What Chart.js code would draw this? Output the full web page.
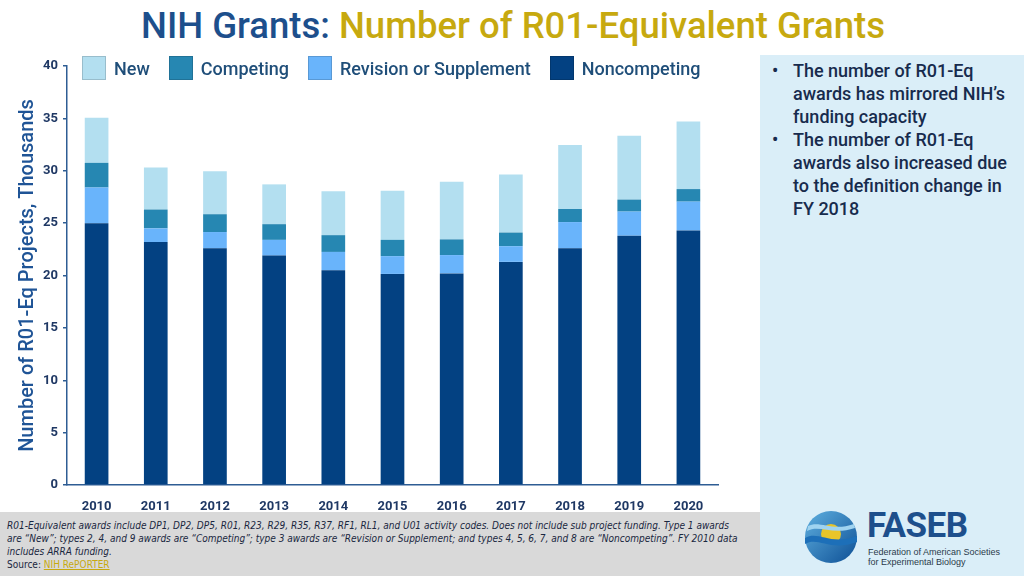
<!DOCTYPE html>
<html>
<head>
<meta charset="utf-8">
<script src="https://cdn.jsdelivr.net/npm/chart.js@4.4.0/dist/chart.umd.min.js"></script>
<style>
  body { margin: 0; width: 1024px; height: 576px; overflow: hidden; background: #fff; position: relative; font-family: Roboto, "Liberation Sans", sans-serif; }
  #title { position: absolute; left: 0; width: 1026px; top: 4px; text-align: center; font-size: 36.5px; font-weight: 500; white-space: nowrap; }
  #title .a { color: #1d4f8c; }
  #title .b { color: #c7a90f; }
  #chartBox { position: absolute; left: 0; top: 0; width: 760px; height: 512px; }
  #legend { position: absolute; left: 82px; top: 56px; display: flex; align-items: center; font-size: 18px; font-weight: 500; color: #1f4e79; }
  #legend .item { display: flex; align-items: center; margin-right: 19px; }
  #legend .box { width: 24px; height: 24px; margin-right: 8px; box-sizing: border-box; }
  #panel { position: absolute; left: 760px; top: 55px; width: 264px; height: 521px; background: #daeef8; }
  #panel ul { margin: 0; padding: 4px 10px 0 33px; list-style: none; color: #172b4d; font-size: 18px; font-weight: 500; line-height: 23px; }
  #panel li { position: relative; }
  #panel li::before { content: "\2022"; position: absolute; left: -21px; }
  #footer { position: absolute; left: 0; top: 512px; width: 760px; height: 64px; background: #d9d9d9; }
  #footer p { margin: 0; white-space: nowrap; padding: 7px 0 0 7px; font-family: "Liberation Sans Narrow", "DejaVu Sans Condensed", sans-serif; font-stretch: condensed; font-style: italic; font-size: 10px; line-height: 13px; color: #1a2740; }
  #footer .src { font-style: normal; }
  #footer .src a { color: #c7a90f; text-decoration: underline; }
  #logo { position: absolute; left: 800px; top: 506px; }
  #faseb { position: absolute; left: 867px; top: 505px; color: #1d4f8c; font-family: Roboto, sans-serif; font-weight: 700; font-size: 35px; letter-spacing: -0.5px; }
  #fasebSub { position: absolute; left: 868px; top: 547px; color: #2a3a4a; font-family: "Liberation Sans", sans-serif; font-size: 9px; line-height: 10px; }
</style>
</head>
<body>
<div id="title"><span class="a">NIH Grants:</span> <span class="b">Number of R01-Equivalent Grants</span></div>
<div id="chartBox"><canvas id="chart"></canvas></div>
<div id="legend"></div>
<div id="panel">
  <ul>
    <li>The number of R01-Eq awards has mirrored NIH’s funding capacity</li>
    <li>The number of R01-Eq awards also increased due to the definition change in FY 2018</li>
  </ul>
</div>
<div id="footer">
  <p>R01-Equivalent awards include DP1, DP2, DP5, R01, R23, R29, R35, R37, RF1, RL1, and U01 activity codes. Does not include sub project funding. Type 1 awards<br>
  are “New”; types 2, 4, and 9 awards are “Competing”; type 3 awards are “Revision or Supplement; and types 4, 5, 6, 7, and 8 are “Noncompeting”. FY 2010 data<br>
  includes ARRA funding.<br>
  <span class="src">Source: <a>NIH RePORTER</a></span></p>
</div>
<svg id="logo" width="62" height="62" viewBox="0 0 62 62">
  <defs>
    <linearGradient id="g1" x1="0" y1="0" x2="1" y2="1">
      <stop offset="0" stop-color="#5fb0e0"/><stop offset="1" stop-color="#0d4f95"/>
    </linearGradient>
  </defs>
  <circle cx="31" cy="31" r="26" fill="url(#g1)"/>
  <circle cx="31" cy="28" r="10" fill="#e8c52a"/>
  <path d="M5 32 C18 24 30 40 57 30 L57 36 C30 46 18 30 5 38 Z" fill="#1d6fb8"/>
  <path d="M8 20 C20 14 32 26 54 18 L55 22 C32 30 20 18 7 25 Z" fill="#9fd3f0"/>
</svg>
<div id="faseb">FASEB</div>
<div id="fasebSub">Federation of American Societies<br>for Experimental Biology</div>
<script>
// Fiscal years
const years = ['2010', '2011', '2012', '2013', '2014', '2015', '2016', '2017', '2018', '2019', '2020'];

// R01-equivalent projects, thousands
const noncompeting = [25.0, 23.2, 22.6, 21.9, 20.5, 20.15, 20.2, 21.3, 22.6, 23.8, 24.3];
const revision = [3.4, 1.3, 1.55, 1.5, 1.75, 1.7, 1.75, 1.5, 2.5, 2.3, 2.75];
const competing = [2.35, 1.8, 1.7, 1.5, 1.6, 1.55, 1.5, 1.3, 1.25, 1.15, 1.2];
const newAwards = [4.3, 4.0, 4.1, 3.8, 4.2, 4.7, 5.5, 5.55, 6.1, 6.1, 6.45];

const yTicks = [0, 5, 10, 15, 20, 25, 30, 35, 40];

const axisColor = '#2e5d94';
const labelColor = '#1f3864';

const ctx = document.getElementById('chart').getContext('2d');

window.grantChart = new Chart(ctx, {
  type: 'bar',
  data: {
    labels: years,
    datasets: [
      { label: 'Noncompeting', data: noncompeting, backgroundColor: '#034182' },
      { label: 'Revision or Supplement', data: revision, backgroundColor: '#69b4fb' },
      { label: 'Competing', data: competing, backgroundColor: '#2687b2' },
      { label: 'New', data: newAwards, backgroundColor: '#b3dff0' }
    ]
  },
  options: {
    responsive: true,
    maintainAspectRatio: false,
    animation: false,
    layout: { padding: { top: 66, right: 42, bottom: 0, left: 16 } },
    datasets: { bar: { barPercentage: 0.4, categoryPercentage: 1 } },
    plugins: {
      legend: { display: false },
      tooltip: { enabled: false }
    },
    scales: {
      x: {
        stacked: true,
        grid: { display: false },
        border: { display: true, color: axisColor, width: 1.5 },
        ticks: { color: labelColor, font: { family: 'Roboto', size: 13, weight: 'bold' }, padding: 6 },
        afterFit(scale) { scale.height = 27; }
      },
      y: {
        stacked: true,
        min: 0,
        max: 40,
        afterBuildTicks(scale) { scale.ticks = yTicks.map(v => ({ value: v })); },
        grid: { display: true, drawOnChartArea: false, drawTicks: true, tickLength: 4, color: axisColor, lineWidth: 1.5 },
        border: { display: true, color: axisColor, width: 1.5 },
        ticks: { color: labelColor, font: { family: 'Roboto', size: 13, weight: 'bold' }, padding: 5 },
        title: {
          display: true,
          text: 'Number of R01-Eq Projects, Thousands',
          color: '#1f5496',
          font: { family: 'Roboto', size: 20, weight: '500' },
          padding: { top: 0, bottom: 4 }
        },
        afterFit(scale) { scale.width = 51; }
      }
    }
  }
});

// Legend in the reference order: New, Competing, Revision or Supplement, Noncompeting
const legendEl = document.getElementById('legend');
window.grantChart.data.datasets.slice().reverse().forEach(ds => {
  const item = document.createElement('div');
  item.className = 'item';
  const box = document.createElement('span');
  box.className = 'box';
  box.style.background = ds.backgroundColor;
  box.style.border = '1px solid rgba(0,0,0,0.15)';
  const txt = document.createElement('span');
  txt.textContent = ds.label;
  item.appendChild(box);
  item.appendChild(txt);
  legendEl.appendChild(item);
});
</script>
</body>
</html>
